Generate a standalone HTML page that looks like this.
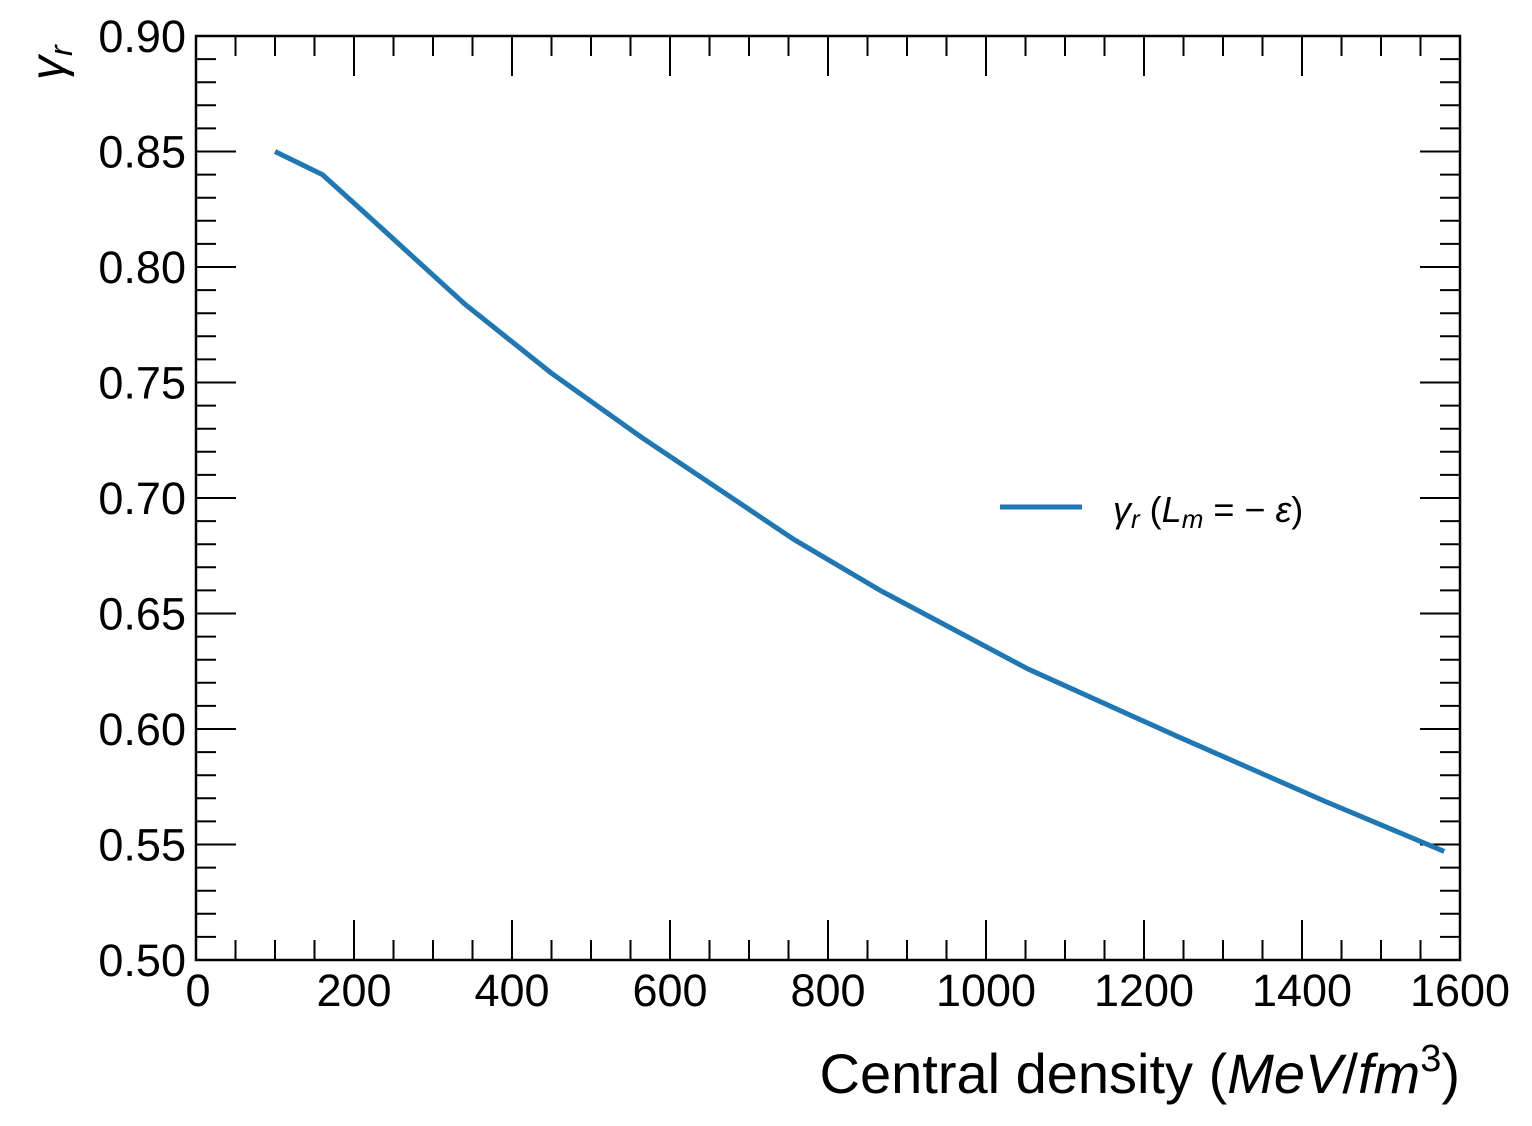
<!DOCTYPE html>
<html><head><meta charset="utf-8"><style>
html,body{margin:0;padding:0;background:#fff;}
svg{display:block;font-family:"Liberation Sans",sans-serif;}
</style></head><body>
<svg id="chart" width="1532" height="1126">
<g id="ticks"></g>
<path id="curve" fill="none" stroke="#1f77b4" stroke-width="5" stroke-linejoin="round"></path>
<rect x="196" y="36" width="1264" height="924" fill="none" stroke="#000" stroke-width="2.5"/>
<g>
<line x1="1000" y1="507" x2="1082" y2="507" stroke="#1f77b4" stroke-width="5"/>
<text x="1113" y="522" font-size="36"><tspan font-style="italic">γ</tspan><tspan font-style="italic" font-size="26" dy="6">r</tspan><tspan dy="-6"> (</tspan><tspan font-style="italic">L</tspan><tspan font-style="italic" font-size="26" dy="6">m</tspan><tspan dy="-6"> = − </tspan><tspan font-style="italic">ε</tspan>)</text>
</g>
<text x="1460" y="1093" font-size="56" text-anchor="end">Central density (<tspan font-style="italic">MeV</tspan>/<tspan font-style="italic">fm</tspan><tspan font-size="38" dy="-22">3</tspan><tspan dy="22">)</tspan></text>
<text transform="translate(64,80) rotate(-90)" font-size="48"><tspan font-style="italic">γ</tspan><tspan font-style="italic" font-size="32" dy="8">r</tspan></text>
</svg>
<script>
const xs=[100,160,215,340,450,565,635,757,866,1053,1241,1427,1580];
const ys=[0.850,0.840,0.823,0.784,0.754,0.726,0.710,0.682,0.660,0.626,0.597,0.569,0.547];
const xTicks=[0,200,400,600,800,1000,1200,1400,1600];
const yTicks=[0.50,0.55,0.60,0.65,0.70,0.75,0.80,0.85,0.90];
const L=196,R=1460,T=36,B=960;
const sx=v=>L+(v-0)/1600*(R-L);
const sy=v=>B-(v-0.5)/0.4*(B-T);
const ns="http://www.w3.org/2000/svg";
const g=document.getElementById('ticks');
function ln(x1,y1,x2,y2,n){const l=document.createElementNS(ns,'line');l.setAttribute('x1',x1);l.setAttribute('y1',y1);l.setAttribute('x2',x2);l.setAttribute('y2',y2);l.setAttribute('stroke','#000');l.setAttribute('stroke-width','2');


g.appendChild(l);}
function tx(x,y,s,a,n){const t=document.createElementNS(ns,'text');t.setAttribute('x',x);t.setAttribute('y',y);t.setAttribute('font-size','45');t.setAttribute('text-anchor',a);t.textContent=s;


document.getElementById('chart').appendChild(t);}
for(let v=0;v<=1600;v+=50){const x=sx(v);const m=v%200===0;const len=m?40:20;ln(x,B,x,B-len,'x-tick');ln(x,T,x,T+len,'x-tick-top');}
for(let i=0;i<=40;i++){const v=0.5+i*0.01;const y=sy(v);const m=i%5===0;const len=m?40:20;ln(L,y,L+len,y,'y-tick');ln(R,y,R-len,y,'y-tick-right');}
xTicks.forEach(v=>tx(sx(v)+(v===0?2:0),1006,String(v),'middle','x-tick-label'));
yTicks.forEach(v=>tx(186,sy(v)+16,v.toFixed(2),'end','y-tick-label'));
document.getElementById('curve').setAttribute('d',xs.map((v,i)=>(i?'L':'M')+sx(v)+','+sy(ys[i])).join(''));
</script>
</body></html>
